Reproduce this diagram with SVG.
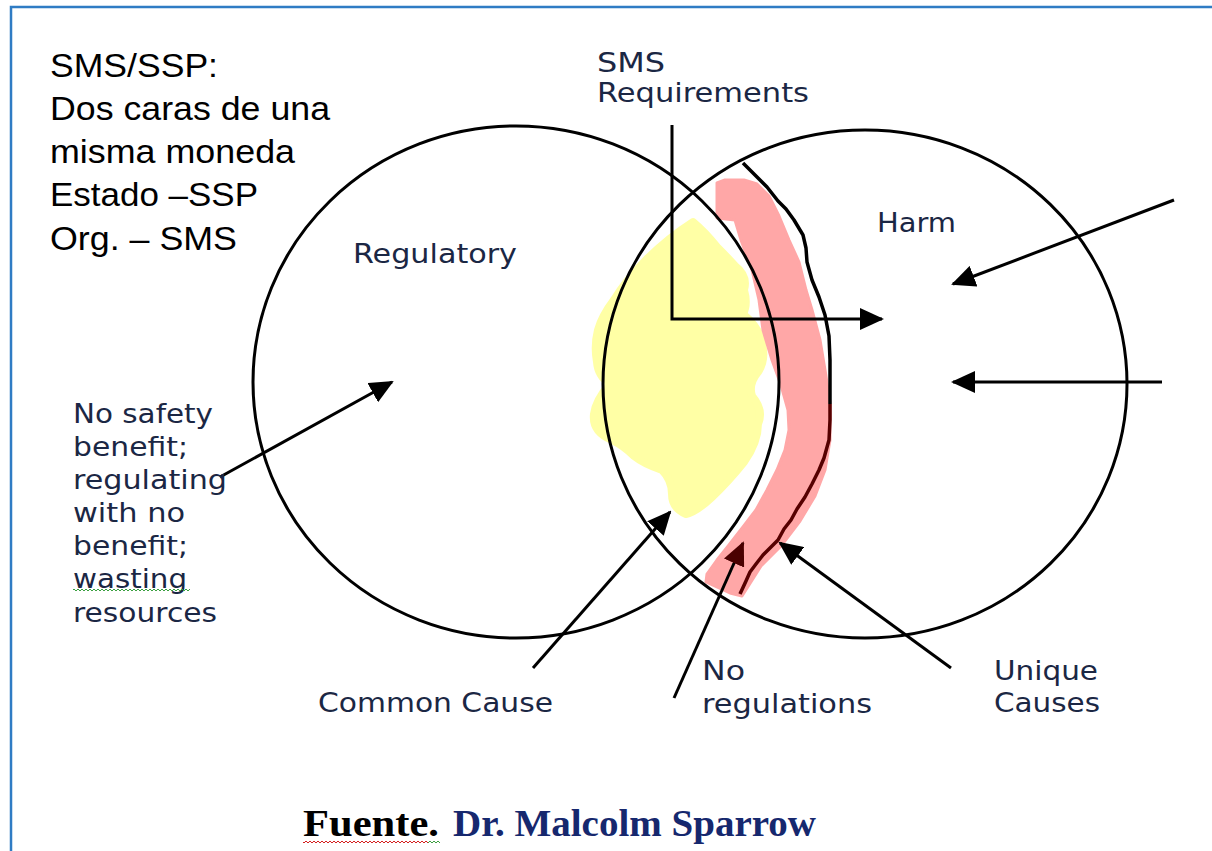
<svg xmlns="http://www.w3.org/2000/svg" width="1212" height="851" viewBox="0 0 1212 851">
<defs>
<style>
.circ{fill:none;stroke:#000;stroke-width:3}
.conn{fill:none;stroke:#000;stroke-width:3;marker-end:url(#ah)}
.title{font-family:"Liberation Sans",Arial,sans-serif;font-size:33px;fill:#000}
.lbl{font-family:"DejaVu Sans",Verdana,sans-serif;font-size:26px;fill:#1b2744}
.src{font-family:"Liberation Serif","Times New Roman",serif;font-size:38px;font-weight:bold}
</style>
<marker id="ah" viewBox="0 0 24 22" refX="22" refY="11" markerWidth="24" markerHeight="22" markerUnits="userSpaceOnUse" orient="auto">
<path d="M0,0 L24,11 L0,22 Z" fill="#000"/>
</marker>
<marker id="ahDark" viewBox="0 0 24 22" refX="22" refY="11" markerWidth="24" markerHeight="22" markerUnits="userSpaceOnUse" orient="auto">
<path d="M0,0 L24,11 L0,22 Z" fill="#4a0000"/>
</marker>
<pattern id="sqRed" width="4" height="4" patternUnits="userSpaceOnUse">
<path d="M0,3 L2,1 L4,3" fill="none" stroke="#d42020" stroke-width="1"/>
</pattern>
<pattern id="sqGreen" width="4" height="4" patternUnits="userSpaceOnUse">
<path d="M0,3 L2,1 L4,3" fill="none" stroke="#3aa040" stroke-width="1"/>
</pattern>
</defs>
<rect width="1212" height="851" fill="#fff"/>
<g id="border">
<path d="M11,851 V7 H1212" fill="none" stroke="#2f7cc4" stroke-width="2.5"/>
</g>
<g id="title">
<text class="title" x="50" y="77" textLength="168" lengthAdjust="spacingAndGlyphs">SMS/SSP:</text>
<text class="title" x="50" y="120" textLength="280" lengthAdjust="spacingAndGlyphs">Dos caras de una</text>
<text class="title" x="50" y="163" textLength="245" lengthAdjust="spacingAndGlyphs">misma moneda</text>
<text class="title" x="50" y="206" textLength="208" lengthAdjust="spacingAndGlyphs">Estado –SSP</text>
<text class="title" x="50" y="250" textLength="187" lengthAdjust="spacingAndGlyphs">Org. – SMS</text>
</g>
<g id="highlights">
<path id="yellow-blob" d="M693,222 Q705,232 717,247 Q728,258 735,266 Q748,276 744,290 Q748,304 743,314 Q760,328 762,344 Q766,360 758,372 Q748,384 752,396 Q764,410 758,424 Q758,442 744,462 Q728,482 712,497 Q696,512 686,514 Q672,508 672,494 Q672,480 662,470 Q644,464 634,456 Q624,446 612,440 Q592,432 594,414 Q596,400 610,384 Q598,376 597,362 Q594,346 598,330 Q602,316 614,300 Q626,280 646,260 Q668,238 693,222 Z" fill="#ffffa5" stroke="#ffffa5" stroke-width="8" stroke-linejoin="round"/>
<path id="pink-band" d="M717,183 L717,218 L735,220 L741,240 L752,270 L759,300 L763,330 L772,360 L781,385 L788,410 L789,430 L785,450 L777,470 L767,490 L756,510 L743,527 L729,545 L717,560 L707,574 L706,582 L730,593 L742,596 L749,585 L761,566 L781,546 L800,521 L815,496 L825,470 L830,440 L830,402 L825,370 L820,340 L812,310 L806,290 L799,262 L789,240 L779,216 L769,196 L757,184 L744,180 L725,180 Z" fill="#ffa7a7" stroke="#ffa7a7" stroke-width="3" stroke-linejoin="round"/>
</g>
<g id="node-regulatory">
<ellipse class="circ" cx="516" cy="382" rx="263" ry="256"/>
<text class="lbl" x="353" y="263" textLength="164" lengthAdjust="spacingAndGlyphs">Regulatory</text>
</g>
<g id="node-harm">
<ellipse class="circ" cx="865" cy="384" rx="262" ry="254"/>
<text class="lbl" x="877" y="232" textLength="79" lengthAdjust="spacingAndGlyphs">Harm</text>
</g>
<g id="boundary-line">
<path d="M743,163 L752,172 L767,187 L778,201 L786,209 L794,220 L803,235 L806,248 L807,262 L812,280 L819,297 L825,315 L829,336 L830,360 L830,385 L830,404" fill="none" stroke="#000" stroke-width="3.5" stroke-linejoin="round"/>
<path d="M830,404 L830,420 L829,440 L824,458 L819,470 L812,484 L805,497 L797,509 L791,520 L784,529 L778,540 L770,548 L763,555 L756,564 L750,572 L746,581 L740,594" fill="none" stroke="#560000" stroke-width="3.5" stroke-linejoin="round"/>
</g>
<g id="connectors">
<path class="conn" d="M672,125 V319 H882"/>
<path class="conn" d="M1174,200 L953,284"/>
<path class="conn" d="M1162,382 L953,382"/>
<path class="conn" d="M220,477 L392,382"/>
<path class="conn" d="M533,668 L670,512"/>
<path class="conn" d="M674,698 L743,543" style="marker-end:url(#ahDark)"/>
<path class="conn" d="M951,668 L780,543"/>
</g>
<g id="label-sms-requirements">
<text class="lbl" x="597" y="72" textLength="68" lengthAdjust="spacingAndGlyphs">SMS</text>
<text class="lbl" x="597" y="102" textLength="212" lengthAdjust="spacingAndGlyphs">Requirements</text>
</g>
<g id="label-no-safety">
<text class="lbl" x="73" y="423" textLength="140" lengthAdjust="spacingAndGlyphs">No safety</text>
<text class="lbl" x="73" y="456" textLength="115" lengthAdjust="spacingAndGlyphs">benefit;</text>
<text class="lbl" x="73" y="489" textLength="154" lengthAdjust="spacingAndGlyphs">regulating</text>
<text class="lbl" x="73" y="522" textLength="112" lengthAdjust="spacingAndGlyphs">with no</text>
<text class="lbl" x="73" y="555" textLength="115" lengthAdjust="spacingAndGlyphs">benefit;</text>
<text class="lbl" x="73" y="588" textLength="114" lengthAdjust="spacingAndGlyphs">wasting</text>
<rect x="73" y="589" width="117" height="4" fill="url(#sqGreen)"/>
<text class="lbl" x="73" y="622" textLength="144" lengthAdjust="spacingAndGlyphs">resources</text>
</g>
<g id="label-common-cause">
<text class="lbl" x="318" y="712" textLength="235" lengthAdjust="spacingAndGlyphs">Common Cause</text>
</g>
<g id="label-no-regulations">
<text class="lbl" x="702" y="680" textLength="43" lengthAdjust="spacingAndGlyphs">No</text>
<text class="lbl" x="702" y="713" textLength="170" lengthAdjust="spacingAndGlyphs">regulations</text>
</g>
<g id="label-unique-causes">
<text class="lbl" x="994" y="680" textLength="104" lengthAdjust="spacingAndGlyphs">Unique</text>
<text class="lbl" x="994" y="712" textLength="106" lengthAdjust="spacingAndGlyphs">Causes</text>
</g>
<g id="source">
<text class="src" x="303" y="836" fill="#000" textLength="136" lengthAdjust="spacingAndGlyphs">Fuente.</text>
<rect x="303" y="841" width="125" height="4" fill="url(#sqRed)"/>
<rect x="428" y="841" width="12" height="4" fill="url(#sqGreen)"/>
<text class="src" x="453" y="836" fill="#16286e" textLength="363" lengthAdjust="spacingAndGlyphs">Dr. Malcolm Sparrow</text>
</g>
</svg>
